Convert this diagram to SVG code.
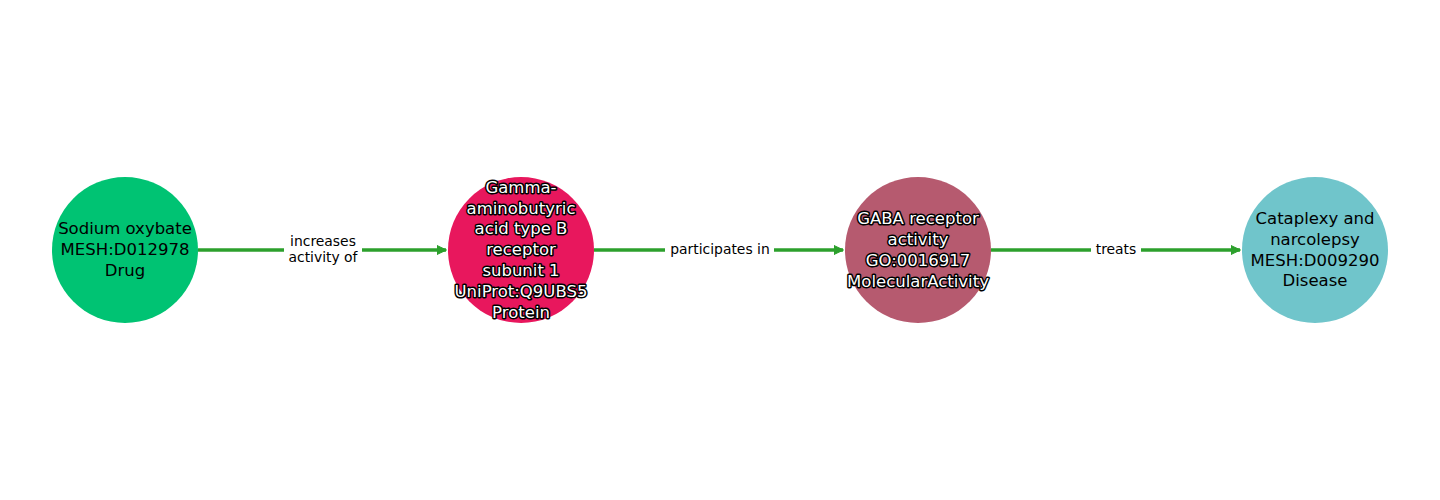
<svg xmlns="http://www.w3.org/2000/svg" width="1440" height="500" viewBox="0 0 1440 500">
<defs>
<style>
.node text{font-family:"DejaVu Sans",sans-serif;font-size:16.5px;text-anchor:middle;dominant-baseline:central}
.dark text{fill:#000}
.halo text{fill:#fff;stroke:#000;stroke-width:3px;stroke-linejoin:round;paint-order:stroke}
.edge{stroke:#2ca02c;stroke-width:3.5;fill:none}
.elabel{font-family:"DejaVu Sans",sans-serif;font-size:13.9px;text-anchor:middle;dominant-baseline:central;fill:#000}
.lbg{fill:#fff}
</style>
<marker id="arrow" viewBox="0 0 10 10" refX="9" refY="5" markerWidth="10" markerHeight="10" markerUnits="userSpaceOnUse" orient="auto">
<path d="M0,0.5 L9.5,5 L0,9.5 Z" fill="#2ca02c" stroke="#2ca02c" stroke-width="1" stroke-linejoin="round"/>
</marker>
</defs>
<rect width="1440" height="500" fill="#fff"/>
<g id="edges">
<line class="edge" x1="198" y1="250" x2="446" y2="250" marker-end="url(#arrow)"/>
<line class="edge" x1="594" y1="250" x2="843" y2="250" marker-end="url(#arrow)"/>
<line class="edge" x1="991" y1="250" x2="1240" y2="250" marker-end="url(#arrow)"/>
<rect class="lbg" x="284" y="232" width="78" height="36"/>
<text class="elabel" x="323" y="241">increases</text>
<text class="elabel" x="323" y="257">activity of</text>
<rect class="lbg" x="665" y="240" width="109" height="20"/>
<text class="elabel" x="720" y="249">participates in</text>
<rect class="lbg" x="1091" y="240" width="50" height="20"/>
<text class="elabel" x="1116" y="249">treats</text>
</g>
<g id="node-drug" class="node dark">
<circle cx="125" cy="250" r="73" fill="#00c373"/>
<text x="125" y="228">Sodium oxybate</text>
<text x="125" y="249">MESH:D012978</text>
<text x="125" y="270">Drug</text>
</g>
<g id="node-protein" class="node halo">
<circle cx="521" cy="250" r="73" fill="#e8175d"/>
<text x="521" y="187">Gamma-</text>
<text x="521" y="208">aminobutyric</text>
<text x="521" y="228">acid type B</text>
<text x="521" y="249">receptor</text>
<text x="521" y="270">subunit 1</text>
<text x="521" y="291">UniProt:Q9UBS5</text>
<text x="521" y="312">Protein</text>
</g>
<g id="node-activity" class="node halo">
<circle cx="918" cy="250" r="73" fill="#b65a6f"/>
<text x="918" y="218">GABA receptor</text>
<text x="918" y="239">activity</text>
<text x="918" y="260">GO:0016917</text>
<text x="918" y="281">MolecularActivity</text>
</g>
<g id="node-disease" class="node dark">
<circle cx="1315" cy="250" r="73" fill="#70c5cb"/>
<text x="1315" y="218">Cataplexy and</text>
<text x="1315" y="239">narcolepsy</text>
<text x="1315" y="260">MESH:D009290</text>
<text x="1315" y="280">Disease</text>
</g>
</svg>
